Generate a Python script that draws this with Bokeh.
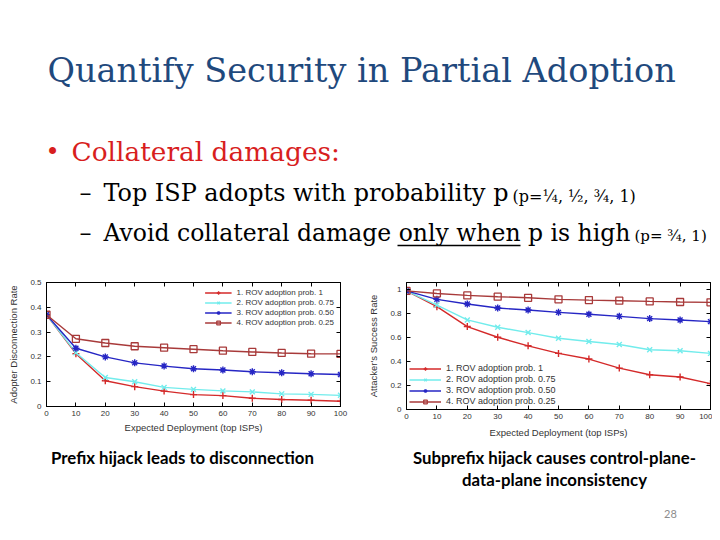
from bokeh.plotting import figure
from bokeh.models import Range1d, LinearAxis, FixedTicker, Legend, LegendItem
from bokeh.layouts import column, row
from bokeh.core.properties import value
from bokeh.embed import file_html
from bokeh.resources import INLINE

# ---------------- data ----------------
deployment = [0, 10, 20, 30, 40, 50, 60, 70, 80, 90, 100]
series_labels = ["1. ROV adoption prob. 1", "2. ROV adoption prob. 0.75",
                 "3. ROV adoption prob. 0.50", "4. ROV adoption prob. 0.25"]

# Prefix hijack: adopter disconnection rate
disc_p100 = [0.370, 0.213, 0.104, 0.080, 0.062, 0.048, 0.044, 0.033, 0.028, 0.025, 0.021]
disc_p075 = [0.370, 0.217, 0.117, 0.100, 0.077, 0.069, 0.063, 0.059, 0.051, 0.049, 0.045]
disc_p050 = [0.370, 0.235, 0.200, 0.176, 0.163, 0.152, 0.147, 0.140, 0.136, 0.132, 0.129]
disc_p025 = [0.370, 0.273, 0.256, 0.243, 0.237, 0.231, 0.225, 0.220, 0.216, 0.213, 0.212]

# Subprefix hijack: attacker's success rate
succ_p100 = [0.985, 0.854, 0.689, 0.600, 0.529, 0.466, 0.419, 0.344, 0.289, 0.270, 0.215]
succ_p075 = [0.985, 0.868, 0.744, 0.683, 0.639, 0.592, 0.565, 0.540, 0.496, 0.488, 0.466]
succ_p050 = [0.985, 0.915, 0.876, 0.843, 0.826, 0.807, 0.791, 0.774, 0.755, 0.744, 0.730]
succ_p025 = [0.985, 0.964, 0.948, 0.937, 0.928, 0.915, 0.909, 0.904, 0.898, 0.893, 0.890]

x_ticks = [0, 10, 20, 30, 40, 50, 60, 70, 80, 90, 100]
left_y_ticks = [0, 0.1, 0.2, 0.3, 0.4, 0.5]
left_y_labels = ["0", "0.1", "0.2", "0.3", "0.4", "0.5"]
right_y_ticks = [0, 0.2, 0.4, 0.6, 0.8, 1.0]
right_y_labels = ["0", "0.2", "0.4", "0.6", "0.8", "1"]

# ---------------- styles ----------------
COLORS = ["#d42a2a", "#72ecec", "#2626c4", "#a83a3a"]
MARKERS = ["cross", "x", "asterisk", "square"]
TXT = "#333333"
CFONT = "Liberation Sans"


def chart(series, yend, yticks, ylabels, ylab, fw, fh, bl, br, bt, bb,
          legend_loc, lfs, gw, ylab_standoff, xlab_standoff, lmargin):
    p = figure(frame_width=fw, frame_height=fh,
               min_border_left=bl, min_border_right=br,
               min_border_top=bt, min_border_bottom=bb,
               x_range=Range1d(0, 100), y_range=Range1d(0, yend),
               output_backend="svg", toolbar_location=None)
    p.grid.visible = False
    p.outline_line_color = "black"
    p.outline_line_width = 1
    p.background_fill_color = "white"
    p.border_fill_color = "white"

    items = []
    for vals, lab, col, mk in zip(series, series_labels, COLORS, MARKERS):
        ln = p.line(deployment, vals, line_color=col, line_width=1.4)
        if mk == "square":
            sc = p.scatter(deployment, vals, marker=mk, size=7,
                           fill_color=None, line_color=col, line_width=1.3)
        else:
            sc = p.scatter(deployment, vals, marker=mk, size=7,
                           line_color=col, fill_color=col, line_width=1.4)
        items.append(LegendItem(label=lab, renderers=[ln, sc]))

    for ax in (p.xaxis[0], p.yaxis[0]):
        ax.major_tick_in = 4
        ax.major_tick_out = 0
        ax.minor_tick_line_color = None
        ax.axis_line_color = "black"
        ax.major_tick_line_color = "black"
        ax.major_label_text_font = CFONT
        ax.major_label_text_font_size = "8px"
        ax.major_label_text_color = TXT
        ax.axis_label_text_font = CFONT
        ax.axis_label_text_font_size = "9.5px"
        ax.axis_label_text_font_style = "normal"
        ax.axis_label_text_color = TXT
        ax.major_label_standoff = 5
    p.xaxis[0].ticker = FixedTicker(ticks=x_ticks)
    p.yaxis[0].ticker = FixedTicker(ticks=yticks)
    p.yaxis[0].major_label_overrides = {t: l for t, l in zip(yticks, ylabels)}
    p.xaxis[0].axis_label = "Expected Deployment (top ISPs)"
    p.yaxis[0].axis_label = ylab
    p.yaxis[0].axis_label_standoff = ylab_standoff
    p.xaxis[0].axis_label_standoff = xlab_standoff
    p.xaxis[0].major_label_standoff = 4

    top = LinearAxis(ticker=FixedTicker(ticks=x_ticks), major_tick_in=4, major_tick_out=0,
                     major_label_text_font_size="0px", major_label_standoff=0,
                     minor_tick_line_color=None, axis_line_color="black")
    rgt = LinearAxis(ticker=FixedTicker(ticks=yticks), major_tick_in=4, major_tick_out=0,
                     major_label_text_font_size="0px", major_label_standoff=0,
                     minor_tick_line_color=None, axis_line_color="black")
    p.add_layout(top, "above")
    p.add_layout(rgt, "right")

    leg = Legend(items=items, location=legend_loc, background_fill_alpha=0,
                 border_line_color=None, label_text_font=CFONT,
                 label_text_font_size=lfs, label_text_color=TXT,
                 glyph_width=gw, glyph_height=9, label_height=9,
                 spacing=1, padding=2, margin=lmargin, label_standoff=5)
    p.add_layout(leg)
    return p


left = chart([disc_p100, disc_p075, disc_p050, disc_p025], 0.5, left_y_ticks, left_y_labels,
             "Adopter Disconnection Rate", 294, 124, 46, 12, 4, 42,
             "top_right", "8px", 27, 8, 3, 6)
right = chart([succ_p100, succ_p075, succ_p050, succ_p025], 1.055, right_y_ticks, right_y_labels,
              "Attacker's Success Rate", 304, 127, 54, 2, 7, 36,
              "bottom_left", "9px", 32, 8, 5, 3)

# ---------------- slide text ----------------
def canvas(h, y0, y1):
    c = figure(width=712, height=h, x_range=Range1d(0, 712), y_range=Range1d(y1, y0),
               min_border=0, x_axis_location=None, y_axis_location=None,
               output_backend="svg", toolbar_location=None)
    c.grid.visible = False
    c.outline_line_color = None
    c.border_fill_color = "white"
    c.background_fill_color = "white"
    return c


SERIF = value("DejaVu Serif")
LATO = value("Lato")
top = canvas(275, 0, 275)
top.text(x=[47], y=[70.4], text=["Quantify Security in Partial Adoption"],
         text_font=SERIF, text_font_size="33.5px", text_color="#1f497d",
         text_baseline="middle", text_align="left")
top.text(x=[45], y=[151], text=["•"], text_font=SERIF, text_font_size="24px",
         text_color="#d81e1e", text_baseline="middle")
top.text(x=[71], y=[151], text=["Collateral damages:"], text_font=SERIF,
         text_font_size="26.4px", text_color="#d81e1e", text_baseline="middle")
top.text(x=[79, 79], y=[192.8, 232.3], text=["–", "–"], text_font=SERIF,
         text_font_size="24px", text_color="black", text_baseline="middle")
top.text(x=[103], y=[192.8], text=["Top ISP adopts with probability p"],
         text_font=SERIF, text_font_size="23.9px", text_color="black", text_baseline="middle")
top.text(x=[103], y=[232.3], text=["Avoid collateral damage only when p is high"],
         text_font=SERIF, text_font_size="23.5px", text_color="black", text_baseline="middle")
top.text(x=[512], y=[195.5], text=["(p=¼, ½, ¾, 1)"],
         text_font=SERIF, text_font_size="16px", text_color="black", text_baseline="middle")
top.text(x=[634], y=[235], text=["(p= ¾, 1)"],
         text_font=SERIF, text_font_size="15px", text_color="black", text_baseline="middle")
top.segment(x0=[397], y0=[245], x1=[520], y1=[245], line_color="black", line_width=1.5)

bottom = canvas(85, 445, 530)
bottom.text(x=[182], y=[456.5], text=["Prefix hijack leads to disconnection"],
            text_font=LATO, text_font_style="bold", text_font_size="16.8px",
            text_color="black", text_baseline="middle", text_align="center")
bottom.text(x=[554, 554], y=[456.5, 478.5],
            text=["Subprefix hijack causes control-plane-", "data-plane inconsistency"],
            text_font=LATO, text_font_style="bold", text_font_size="16.8px",
            text_color="black", text_baseline="middle", text_align="center")
bottom.text(x=[670], y=[513.7], text=["28"], text_font=LATO, text_font_size="11px",
            text_color="#8c8c8c", text_baseline="middle", text_align="center")

layout = column(top, row(left, right), bottom)
open("out.html", "w").write(file_html(layout, INLINE))
